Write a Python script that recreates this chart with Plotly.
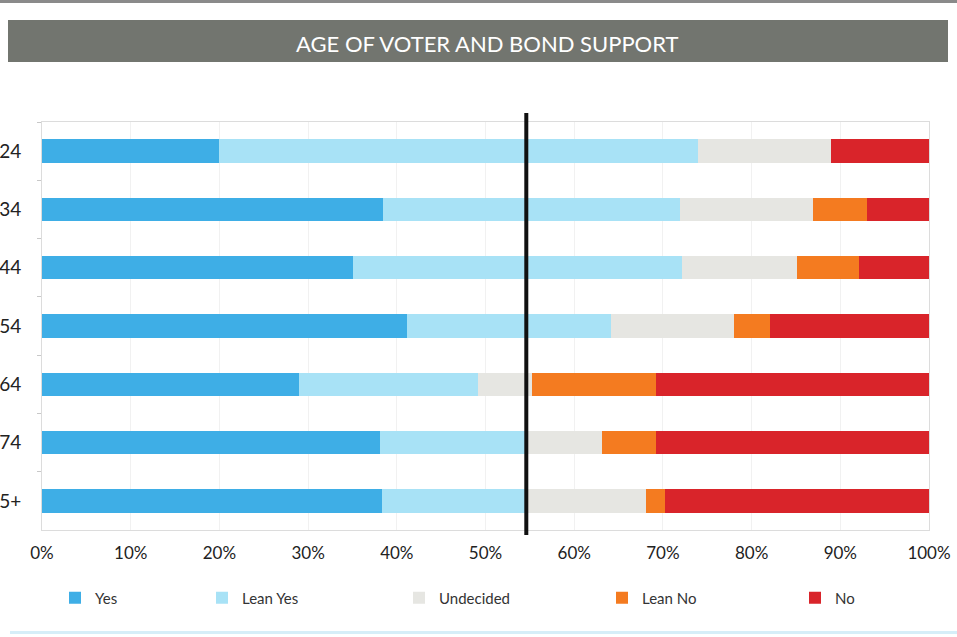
import plotly.graph_objects as go

categories = ["24", "34", "44", "54", "64", "74", "5+"]
yes = [20.0, 38.4, 35.1, 41.1, 29.0, 38.1, 38.3]
lean_yes = [54.0, 33.5, 37.1, 23.1, 20.2, 16.7, 16.3]
undecided = [15.0, 15.0, 12.9, 13.8, 6.0, 8.3, 13.5]
lean_no = [0.0, 6.1, 7.0, 4.1, 14.0, 6.1, 2.1]
no = [11.0, 7.0, 7.9, 17.9, 30.8, 30.8, 29.8]
threshold = 54.6

series = [
    ("Yes", yes, "#3eaee6"),
    ("Lean Yes", lean_yes, "#a8e2f6"),
    ("Undecided", undecided, "#e6e6e2"),
    ("Lean No", lean_no, "#f47b20"),
    ("No", no, "#d9242a"),
]

legend_x_px = [55, 202, 399, 602, 795]
W, H = 957, 637
L, R, T, B = 42, 28, 122, 107
pw = W - L - R
ph = H - T - B

fig = go.Figure()
for i, (name, vals, color) in enumerate(series):
    lg = "legend" if i == 0 else f"legend{i+1}"
    fig.add_trace(go.Bar(
        y=categories, x=vals, name=name, orientation="h",
        marker=dict(color=color, line=dict(width=0)),
        legend=lg, showlegend=True,
    ))

font_family = "Lato, 'Open Sans', sans-serif"
layout_legends = {}
for i, px in enumerate(legend_x_px):
    key = "legend" if i == 0 else f"legend{i+1}"
    layout_legends[key] = dict(
        x=(px - L) / pw, y=-(598 - T - ph) / ph, xanchor="left", yanchor="middle",
        orientation="h", bgcolor="rgba(0,0,0,0)",
        font=dict(size=15, color="#333333", family=font_family),
    )

fig.update_layout(
    width=W, height=H,
    margin=dict(l=L, r=R, t=T, b=B, autoexpand=False),
    barmode="stack", bargap=0.6,
    showlegend=True,
    plot_bgcolor="white", paper_bgcolor="white",
    font=dict(family=font_family, color="#222222"),
    **layout_legends,
)

fig.update_xaxes(
    range=[0, 100], dtick=10, ticksuffix="%", automargin=False,
    showgrid=True, gridcolor="#f1f1f1", gridwidth=1,
    zeroline=False, showline=True, linecolor="#dcdcdc", mirror=True,
    tickfont=dict(size=17, color="#222222"), ticklabelstandoff=8,
)
fig.update_yaxes(
    autorange="reversed", showgrid=False, automargin=False,
    showline=True, linecolor="#dcdcdc", mirror=True,
    ticks="outside", tickson="boundaries", ticklen=4, tickcolor="#c8c8c8",
    tickfont=dict(size=19, color="#222222"), ticklabelstandoff=16,
)

# threshold line
fig.add_shape(type="line", xref="x", yref="paper",
              x0=threshold, x1=threshold, y0=-0.012, y1=1.022,
              line=dict(color="#111111", width=4))

# title banner
fig.add_shape(type="rect", xref="paper", yref="paper",
              x0=(8 - L) / pw, x1=(948 - L) / pw,
              y0=1 + (T - 62) / ph, y1=1 + (T - 20) / ph,
              fillcolor="#72756f", line=dict(width=0), layer="below")
fig.add_annotation(xref="paper", yref="paper",
                   x=(487 - L) / pw, y=1 + (T - 43) / ph,
                   text="AGE OF VOTER AND BOND SUPPORT", showarrow=False,
                   font=dict(size=22, color="white", family=font_family),
                   xanchor="center", yanchor="middle")
# top rule and bottom rule
fig.add_shape(type="rect", xref="paper", yref="paper",
              x0=-L / pw, x1=(W - L) / pw,
              y0=1 + (T - 3) / ph, y1=1 + T / ph,
              fillcolor="#8a8a8a", line=dict(width=0))
fig.add_shape(type="rect", xref="paper", yref="paper",
              x0=(10 - L) / pw, x1=(W - L) / pw,
              y0=-(B - 3) / ph, y1=-(B - 6) / ph,
              fillcolor="#d6eef8", line=dict(width=0))

fig.write_html("out.html", config={"displayModeBar": False},
               post_script="document.body.style.margin='0';document.body.style.overflow='hidden';")
